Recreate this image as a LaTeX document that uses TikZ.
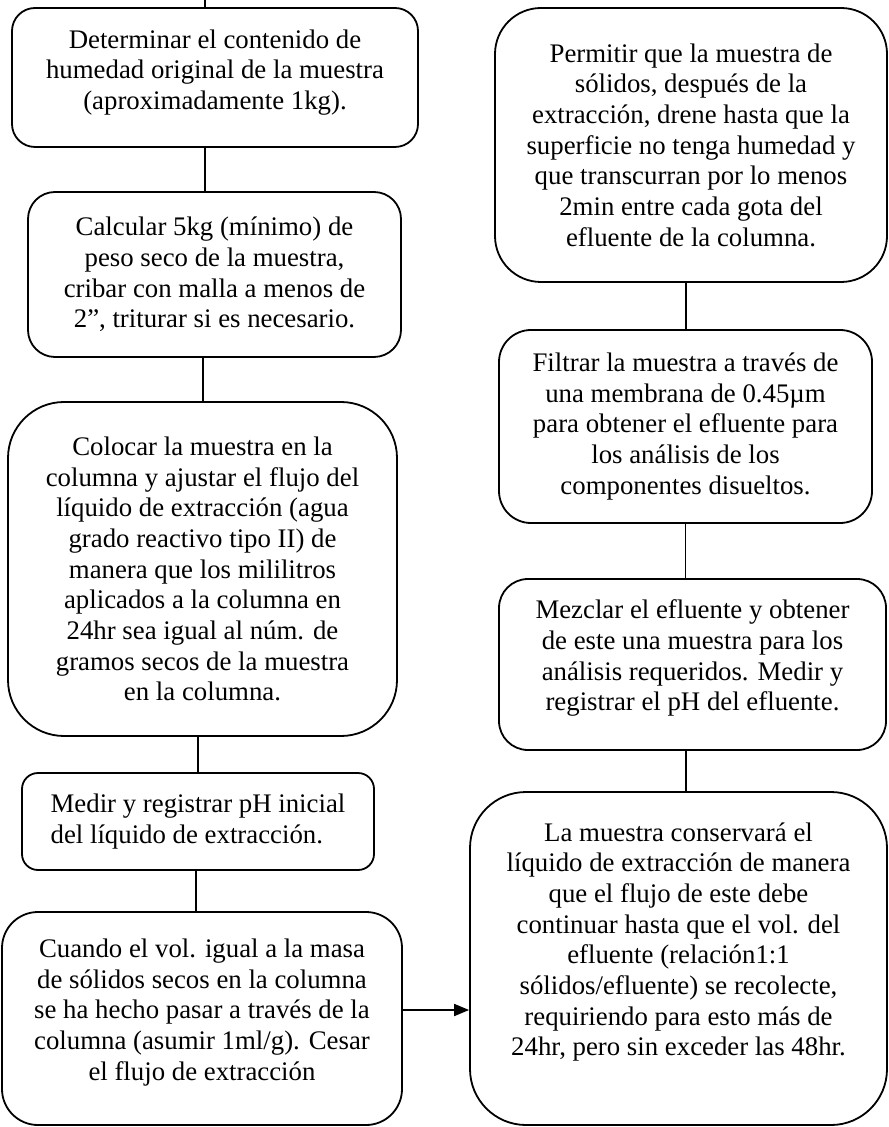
\documentclass[tikz,border=0pt]{standalone}
\usepackage{fontspec}
\setmainfont{Liberation Serif}
\usetikzlibrary{arrows.meta,positioning,calc}

\begin{document}
\begin{tikzpicture}[x=0.5pt,y=-0.5pt,
	paso/.style={draw,line width=0.9pt,align=center,inner sep=0pt,
		font=\fontsize{13.4}{15.35}\selectfont},
	linea/.style={line width=0.9pt},
	flecha/.style={line width=0.9pt,-{Triangle[length=7.5pt,width=6pt]}}]
	\useasboundingbox (0,0) rectangle (888,1127);
	
	% left column
	\node[paso,rounded corners=11.5pt,minimum width=203pt,minimum height=69.5pt] (b1) at (215,77.5)
		{Determinar el contenido de\\humedad original de la muestra\\(aproximadamente 1kg).\\[-7.3pt]\mbox{}};
	\node[paso,rounded corners=13.5pt,minimum width=186.5pt,minimum height=82.5pt] (b2) at (214.5,274.5)
		{Calcular 5kg (mínimo) de\\peso seco de la muestra,\\cribar con malla a menos de\\2”, triturar si es necesario.};
	\node[paso,rounded corners=28pt,minimum width=194.5pt,minimum height=167pt] (b3) at (202.5,569)
		{Colocar la muestra en la\\columna y ajustar el flujo del\\líquido de extracción (agua\\grado reactivo tipo II) de\\manera que los mililitros\\aplicados a la columna en\\24hr sea igual al núm. de\\gramos secos de la muestra\\en la columna.};
	\node[paso,align=left,rounded corners=8pt,minimum width=176pt,minimum height=48.5pt] (b4) at (198,821.5)
		{Medir y registrar pH inicial\\del líquido de extracción.};
	\node[paso,rounded corners=18pt,minimum width=200pt,minimum height=106.5pt] (b5) at (202,1018.5)
		{Cuando el vol. igual a la masa\\de sólidos secos en la columna\\se ha hecho pasar a través de la\\columna (asumir 1ml/g). Cesar\\el flujo de extracción\\[-6.3pt]\mbox{}};
	
	% right column
	\node[paso,rounded corners=23pt,minimum width=196pt,minimum height=137pt] (r1) at (691,145)
		{Permitir que la muestra de\\sólidos, después de la\\extracción, drene hasta que la\\superficie no tenga humedad y\\que transcurran por lo menos\\2min entre cada gota del\\efluente de la columna.};
	\node[paso,rounded corners=16pt,minimum width=186.5pt,minimum height=96.5pt] (r2) at (685.5,426.5)
		{Filtrar la muestra a través de\\una membrana de 0.45µm\\para obtener el efluente para\\los análisis de los\\componentes disueltos.};
	\node[paso,rounded corners=14.5pt,minimum width=193.5pt,minimum height=85.5pt] (r3) at (692.5,664.5)
		{Mezclar el efluente y obtener\\de este una muestra para los\\análisis requeridos. Medir y\\registrar el pH del efluente.\\[-6.3pt]\mbox{}};
	\node[paso,rounded corners=28pt,minimum width=208.5pt,minimum height=166.5pt] (r4) at (678.5,958.5)
		{La muestra conservará el\\líquido de extracción de manera\\que el flujo de este debe\\continuar hasta que el vol. del\\efluente (relación1:1\\sólidos/efluente) se recolecte,\\requiriendo para esto más de\\24hr, pero sin exceder las 48hr.\\[4pt]\mbox{}};
	
	% connectors
	\coordinate (entrada) at (205,0);
	\draw[linea] (entrada) -- (entrada |- b1.north);
	\draw[linea] ([xshift=-5pt]b1.south) -- ([xshift=-5pt]b1.south |- b2.north);
	\draw[linea] ([xshift=-5.75pt]b2.south) -- ([xshift=-5.75pt]b2.south |- b3.north);
	\draw[linea] ([xshift=-2.25pt]b3.south) -- ([xshift=-2.25pt]b3.south |- b4.north);
	\draw[linea] ([xshift=-1pt]b4.south) -- ([xshift=-1pt]b4.south |- b5.north);
	
	\draw[linea] ([xshift=-2.5pt]r1.south) -- ([xshift=-2.5pt]r1.south |- r2.north);
	\draw[linea] (r2.south) -- (r2.south |- r3.north);
	\draw[linea] ([xshift=-3.25pt]r3.south) -- ([xshift=-3.25pt]r3.south |- r4.north);
	
	\coordinate (salida) at ([yshift=4.25pt]b5.east);
	\draw[flecha] (salida) -- (salida -| r4.west);
\end{tikzpicture}
\end{document}
